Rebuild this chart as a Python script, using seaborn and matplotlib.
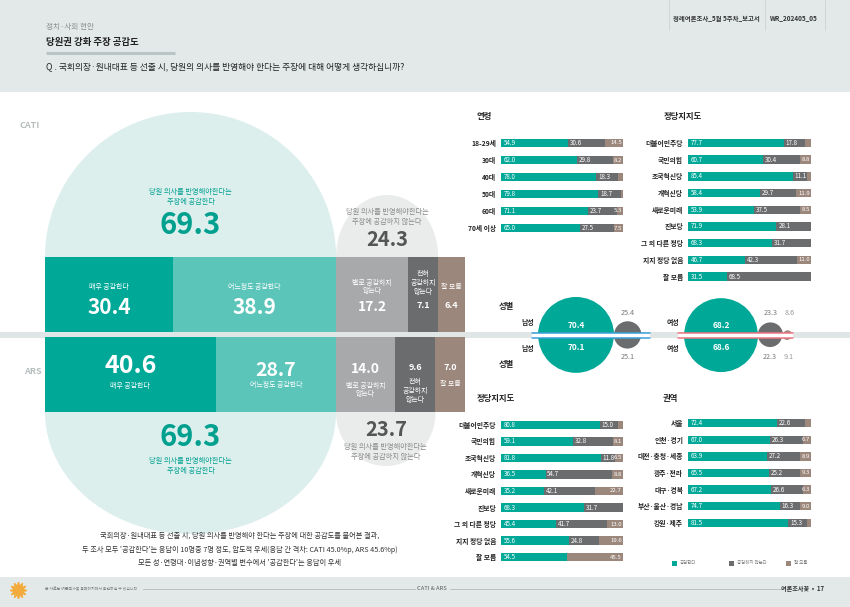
import numpy as np
import pandas as pd
import matplotlib
matplotlib.use("Agg")
import matplotlib.pyplot as plt
from matplotlib.patches import Rectangle, Polygon, Wedge
import seaborn as sns

sns.set_theme(style="white")
plt.rcParams['font.family'] = ['Noto Sans CJK KR', 'DejaVu Sans']

# ---------------- data ----------------
main_cats = ['매우 공감한다', '어느정도 공감한다', '별로 공감하지\n않는다', '전혀\n공감하지\n않는다', '잘 모름']
cati_vals = [30.4, 38.9, 17.2, 7.1, 6.4]
ars_vals = [40.6, 28.7, 14.0, 9.6, 7.0]
agree_totals = [69.3, 69.3]       # CATI, ARS
disagree_totals = [24.3, 23.7]    # CATI, ARS

age_cats = ['18-29세', '30대', '40대', '50대', '60대', '70세 이상']
age_agree = [54.9, 62.0, 78.0, 79.8, 71.1, 65.0]
age_dis = [30.6, 29.8, 18.3, 18.7, 23.7, 27.5]
age_dk = [14.5, 8.2, 3.7, 1.5, 5.3, 7.5]

party_cats = ['더불어민주당', '국민의힘', '조국혁신당', '개혁신당', '새로운미래', '진보당',
              '그 외 다른 정당', '지지 정당 없음', '잘 모름']
party_cati_agree = [77.7, 60.7, 85.4, 58.4, 53.9, 71.9, 68.3, 46.7, 31.5]
party_cati_dis = [17.8, 30.4, 11.1, 29.7, 37.5, 28.1, 31.7, 42.3, 68.5]
party_cati_dk = [4.5, 8.8, 3.5, 11.9, 8.5, 0.0, 0.0, 11.0, 0.0]

party_ars_agree = [80.8, 59.1, 81.8, 36.5, 35.2, 68.3, 45.4, 55.6, 54.5]
party_ars_dis = [15.0, 32.8, 11.8, 54.7, 42.1, 31.7, 41.7, 24.8, 0.0]
party_ars_dk = [4.2, 8.1, 6.5, 8.8, 22.7, 0.0, 13.0, 19.6, 45.5]

region_cats = ['서울', '인천·경기', '대전·충청·세종', '광주·전라', '대구·경북', '부산·울산·경남', '강원·제주']
region_agree = [72.4, 67.0, 63.9, 65.5, 67.2, 74.7, 81.5]
region_dis = [22.6, 26.3, 27.2, 25.2, 26.6, 16.3, 15.3]
region_dk = [5.0, 6.7, 8.9, 9.3, 6.3, 9.0, 3.2]

gender_cats = ['남성', '여성']
gender_cati = [[70.4, 25.4, 4.2], [68.2, 23.3, 8.6]]
gender_ars = [[70.1, 25.1, 4.8], [68.6, 22.3, 9.1]]

legend_labels = ['공감한다', '공감하지 않는다', '잘 모름']

# ---------------- styles ----------------
TEAL = '#00a898'
TEAL_L = '#5cc5ba'
GRAY_L = '#a8a9ab'
GRAY_D = '#6b6c6e'
BROWN = '#9c877c'
main_colors = [TEAL, TEAL_L, GRAY_L, GRAY_D, BROWN]
BAND = '#e3e9e9'

W, H = 850, 607
fig = plt.figure(figsize=(8.5, 6.07), dpi=100)


def px_axes(x0, y0, x1, y1):
    return fig.add_axes([x0 / W, 1 - y1 / H, (x1 - x0) / W, (y1 - y0) / H])


bg = px_axes(0, 0, W, H)
bg.set_xlim(0, W)
bg.set_ylim(H, 0)
bg.axis('off')

# page bands
bg.add_patch(Rectangle((0, 0), W, 92, color=BAND, lw=0, zorder=0))
bg.add_patch(Rectangle((0, 577), W, 30, color=BAND, lw=0, zorder=0))

# header
bg.text(46, 27, '정치·사회 현안', fontsize=5.5, color='#8a8f8f', va='center')
bg.text(46, 42, '당원권 강화 주장 공감도', fontsize=6.8, color='#222', weight='bold', va='center')
bg.plot([46, 175], [53, 53], color='#b9c4c4', lw=2.2, solid_capstyle='butt')
bg.text(46, 67, 'Q . 국회의장·원내대표 등 선출 시, 당원의 의사를 반영해야 한다는 주장에 대해 어떻게 생각하십니까?',
        fontsize=6.3, color='#222', va='center', weight='medium')
for xv in [669, 765, 825]:
    bg.plot([xv, xv], [0, 30], color='#cfd6d6', lw=0.7)
bg.text(716, 18, '정례여론조사_5월 5주차_보고서', fontsize=4.6, color='#333', ha='center', va='center', weight='bold')
bg.text(794, 18, 'WR_202405_05', fontsize=4.6, color='#333', ha='center', va='center', weight='bold')

# separator band
bg.add_patch(Rectangle((0, 331.5), W, 6, color='#e0e6e6', lw=0, zorder=1))

# footer
bg.plot([18], [590], marker=(12, 1, 0), ms=12, color='#f2ab3c', mec='#f2ab3c')
bg.text(45, 589, '본 자료는 여론조사꽃 홈페이지에서 확인하실 수 있습니다', fontsize=2.8, color='#777', va='center')
bg.plot([143, 415], [589, 589], color='#b5b9b9', lw=0.6)
bg.text(432, 589, 'CATI & ARS', fontsize=4.2, color='#555', ha='center', va='center')
bg.plot([450, 782], [589, 589], color='#b5b9b9', lw=0.6)
bg.text(824, 589, '여론조사꽃  •  17', fontsize=4.4, color='#333', ha='right', va='center', weight='bold')

# CATI / ARS labels
bg.text(20, 125, 'CATI', fontsize=6.5, color='#b7bebe', weight='bold', va='center')
bg.text(24, 372, 'ARS', fontsize=6.5, color='#b7bebe', weight='bold', va='center')

# ---------------- main chart ----------------
ax = px_axes(45, 92, 465, 577)
ax.set_xlim(0, 100)
ax.set_ylim(577, 92)
ax.axis('off')
ax.patch.set_alpha(0)


def half_ellipse(cx, rx, y0, ry, up):
    th = np.linspace(0, np.pi, 120)
    xs = cx + rx * np.cos(th)
    ys = y0 - ry * np.sin(th) if up else y0 + ry * np.sin(th)
    return np.column_stack([xs, ys])


CATI_TOP, CATI_BOT = 257, 332
ARS_TOP, ARS_BOT = 337, 412

# semicircles
ax.add_patch(Polygon(half_ellipse(agree_totals[0] / 2, agree_totals[0] / 2, CATI_TOP, 145, True),
                     closed=True, color='#dcefed', lw=0, zorder=1))
ax.add_patch(Polygon(half_ellipse(agree_totals[0] + disagree_totals[0] / 2, disagree_totals[0] / 2, CATI_TOP, 62, True),
                     closed=True, color='#eaebeb', lw=0, zorder=1))
ax.add_patch(Polygon(half_ellipse(agree_totals[1] / 2, agree_totals[1] / 2, ARS_BOT, 122, False),
                     closed=True, color='#dcefed', lw=0, zorder=1))
ax.add_patch(Polygon(half_ellipse(agree_totals[1] + disagree_totals[1] / 2, disagree_totals[1] / 2, ARS_BOT, 54, False),
                     closed=True, color='#eaebeb', lw=0, zorder=1))

# stacked bars
cati_left = np.concatenate([[0], np.cumsum(cati_vals)[:-1]])
ars_left = np.concatenate([[0], np.cumsum(ars_vals)[:-1]])
ax.barh([(CATI_TOP + CATI_BOT) / 2] * 5, cati_vals, left=cati_left, height=CATI_BOT - CATI_TOP,
        color=main_colors, lw=0, zorder=2)
ax.barh([(ARS_TOP + ARS_BOT) / 2] * 5, ars_vals, left=ars_left, height=ARS_BOT - ARS_TOP,
        color=main_colors, lw=0, zorder=2)

cati_num_size = [15, 15, 10, 6.5, 6.5]
cati_lab_y = [287, 287, 287, 283, 287]
cati_num_y = [308, 308, 307, 306, 306]
for i in range(5):
    cx = cati_left[i] + cati_vals[i] / 2
    ax.text(cx, cati_lab_y[i], main_cats[i], fontsize=5, color='white', ha='center', va='center',
            linespacing=1.15, zorder=3)
    ax.text(cx, cati_num_y[i], f'{cati_vals[i]:.1f}', fontsize=cati_num_size[i], color='white',
            ha='center', va='center', weight='bold', zorder=3)

ars_num_size = [18, 14, 10, 6.5, 6.5]
ars_num_y = [366, 370, 369, 368, 368]
ars_lab_y = [386, 385, 390, 391, 384]
for i in range(5):
    cx = ars_left[i] + ars_vals[i] / 2
    ax.text(cx, ars_num_y[i], f'{ars_vals[i]:.1f}', fontsize=ars_num_size[i], color='white',
            ha='center', va='center', weight='bold', zorder=3)
    ax.text(cx, ars_lab_y[i], main_cats[i], fontsize=5, color='white', ha='center', va='center',
            linespacing=1.15, zorder=3)

agree_txt = '당원 의사를 반영해야한다는\n주장에 공감한다'
dis_txt = '당원 의사를 반영해야한다는\n주장에 공감하지 않는다'
TEAL_T = '#00a08f'
ax.text(agree_totals[0] / 2, 197, agree_txt, fontsize=5.2, color=TEAL_T, ha='center', va='center', zorder=3)
ax.text(agree_totals[0] / 2, 225, f'{agree_totals[0]:.1f}', fontsize=21, color=TEAL_T, ha='center',
        va='center', weight='bold', zorder=3)
ax.text(agree_totals[0] + disagree_totals[0] / 2, 217, dis_txt, fontsize=5.2, color='#8a8a8a',
        ha='center', va='center', zorder=3)
ax.text(agree_totals[0] + disagree_totals[0] / 2, 240, f'{disagree_totals[0]:.1f}', fontsize=14.5,
        color='#555', ha='center', va='center', weight='bold', zorder=3)

ax.text(agree_totals[1] / 2, 437, f'{agree_totals[1]:.1f}', fontsize=21, color=TEAL_T, ha='center',
        va='center', weight='bold', zorder=3)
ax.text(agree_totals[1] / 2, 466, agree_txt, fontsize=5.2, color=TEAL_T, ha='center', va='center', zorder=3)
ax.text(agree_totals[1] + disagree_totals[1] / 2, 430, f'{disagree_totals[1]:.1f}', fontsize=14.5,
        color='#555', ha='center', va='center', weight='bold', zorder=3)
ax.text(agree_totals[1] + disagree_totals[1] / 2, 452, dis_txt, fontsize=5.2, color='#8a8a8a',
        ha='center', va='center', zorder=3)


# ---------------- small stacked bar charts ----------------
def stacked(box, cats, a, b, c, title, title_xy):
    x0, y0, x1, y1 = box
    n = len(cats)
    axs = px_axes(x0, y0, x1, y1)
    df = pd.DataFrame({'cat': cats, 'a': a, 'b': b, 'c': c})
    df['ab'] = df['a'] + df['b']
    df['abc'] = df['ab'] + df['c']
    for col, colr in [('abc', BROWN), ('ab', GRAY_D), ('a', TEAL)]:
        sns.barplot(data=df, y='cat', x=col, order=cats, color=colr, saturation=1, width=0.5,
                    orient='h', ax=axs, linewidth=0, errorbar=None)
    axs.set_xlim(0, 100)
    axs.set_ylim(n - 0.5, -0.5)
    axs.set_xlabel('')
    axs.set_ylabel('')
    axs.set_xticks([])
    for s in axs.spines.values():
        s.set_visible(False)
    axs.patch.set_alpha(0)
    axs.tick_params(axis='y', length=0, pad=3.5, labelsize=4.9, labelcolor='#222')
    for lab in axs.get_yticklabels():
        lab.set_fontweight('bold')
    for i in range(n):
        axs.text(2, i, f'{a[i]:.1f}', fontsize=4.5, color='white', va='center', ha='left')
        if b[i] > 0:
            axs.text(a[i] + 1.5, i, f'{b[i]:.1f}', fontsize=4.5, color='white', va='center', ha='left')
        if c[i] > 5.0:
            axs.text(a[i] + b[i] + c[i] - 0.8, i, f'{c[i]:.1f}', fontsize=4.3, color='white',
                     va='center', ha='right')
    bg.text(title_xy[0], title_xy[1], title, fontsize=6, weight='bold', color='#222', va='center')
    return axs


stacked((501, 134.5, 623, 236.5), age_cats, age_agree, age_dis, age_dk, '연령', (477, 117))
stacked((688, 134.6, 811, 284.9), party_cats, party_cati_agree, party_cati_dis, party_cati_dk,
        '정당지지도', (664, 116))
stacked((501, 416.7, 623, 565.3), party_cats, party_ars_agree, party_ars_dis, party_ars_dk,
        '정당지지도', (477, 398))
stacked((688, 414.7, 811, 531.3), region_cats, region_agree, region_dis, region_dk, '권역', (663, 398))

# ---------------- gender circles ----------------
K = 0.54   # px of radius per percent
CY = 335
gender_x = [576, 721]
circle_colors = [TEAL, GRAY_D, BROWN]
line_colors = ['#3a9fd9', '#ef7583']
for g in range(2):
    for vals, th1, th2, sign in [(gender_cati[g], 180, 360, -1), (gender_ars[g], 0, 180, 1)]:
        cx = gender_x[g]
        centers = []
        for j, v in enumerate(vals):
            if j > 0:
                cx = cx + K * vals[j - 1] + K * v
            centers.append(cx)
            bg.add_patch(Wedge((cx, CY), K * v, th1, th2, color=circle_colors[j], lw=0, zorder=3))
        ly = CY - 10 if sign < 0 else CY + 12
        bg.text(centers[0], ly, f'{vals[0]:.1f}', fontsize=6, color='white', weight='bold',
                ha='center', va='center', zorder=5)
        oy = CY - 22 if sign < 0 else CY + 22
        bg.text(centers[1], oy, f'{vals[1]:.1f}', fontsize=5.2, color='#777', ha='center', va='center', zorder=5)
        if g == 1:
            bg.text(centers[2] + 2, oy, f'{vals[2]:.1f}', fontsize=5.2, color='#999', ha='center',
                    va='center', zorder=5)
    x_start = gender_x[g] - K * max(gender_cati[g][0], gender_ars[g][0]) - 6
    x_end = centers[2] + 6
    bg.add_patch(Rectangle((x_start, CY - 2.5), x_end - x_start, 5, color='white', lw=0, zorder=4))
    bg.plot([x_start, x_end], [CY - 2.5, CY - 2.5], color=line_colors[g], lw=1.1, zorder=4.5)
    bg.plot([x_start, x_end], [CY + 2.5, CY + 2.5], color=line_colors[g], lw=1.1, zorder=4.5)
    lx = gender_x[g] - 48
    bg.text(lx, 322, gender_cats[g], fontsize=5, color='#222', ha='center', va='center', weight='bold')
    bg.text(lx, 349, gender_cats[g], fontsize=5, color='#222', ha='center', va='center', weight='bold')

bg.text(506, 307, '성별', fontsize=6, color='#222', ha='center', va='center', weight='bold')
bg.text(506, 365, '성별', fontsize=6, color='#222', ha='center', va='center', weight='bold')

# ---------------- overlay: legend + bottom note ----------------
top = px_axes(0, 0, W, H)
top.set_xlim(0, W)
top.set_ylim(H, 0)
top.axis('off')
top.patch.set_alpha(0)

for xv, colr, lab in zip([675, 732, 789], [TEAL, GRAY_D, BROWN], legend_labels):
    top.add_patch(Rectangle((xv - 2.5, 560.5), 5, 5, color=colr, lw=0))
    top.text(xv + 5, 563, lab, fontsize=3.2, color='#777', va='center')

notes = ['국회의장·원내대표 등 선출 시, 당원 의사를 반영해야 한다는 주장에 대한 공감도를 물어본 결과,',
         "두 조사 모두 '공감한다'는 응답이 10명중 7명 정도, 압도적 우세(응답 간 격차: CATI 45.0%p, ARS 45.6%p)",
         "모든 성·연령대·이념성향·권역별 변수에서 '공감한다'는 응답이 우세"]
for i, t in enumerate(notes):
    top.text(240, 536 + i * 13.5, t, fontsize=5.2, color='#333', ha='center', va='center')

fig.savefig('out.png', dpi=100)
